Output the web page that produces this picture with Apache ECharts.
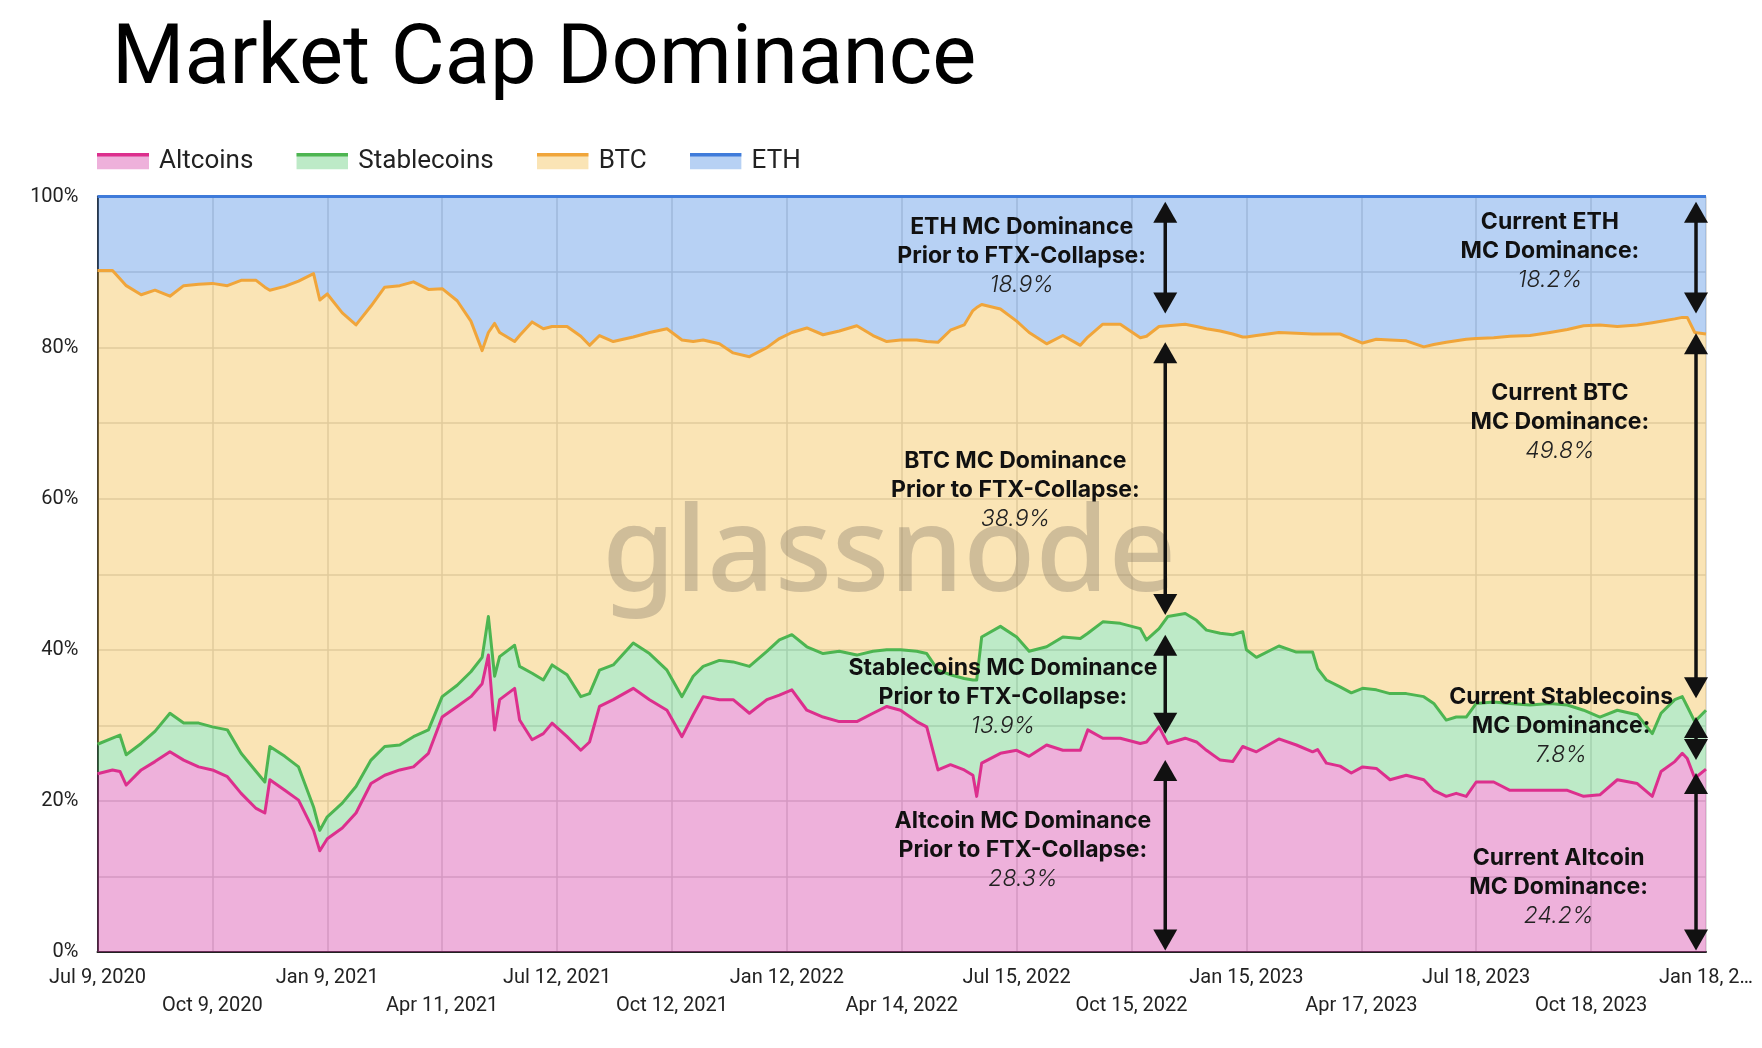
<!DOCTYPE html>
<html>
<head>
<meta charset="utf-8">
<script src="https://cdn.jsdelivr.net/npm/echarts/dist/echarts.min.js"></script>
<style>
html,body{margin:0;padding:0;background:#ffffff;}
#chart{width:1762px;height:1048px;}
</style>
</head>
<body>
<div id="chart"></div>
<script>
// ---- DATA (days since Jul 9, 2020; dominance in %) ----
const dayIndex = [0,12,18,23,35,46,58,69,81,92,
104,115,127,134,138,150,161,173,178,184,
196,207,219,230,242,253,265,276,288,299,
308,313,318,322,334,338,348,357,364,376,
387,394,402,413,429,442,456,468,477,485,
498,509,522,536,546,556,568,581,594,608,
621,632,643,656,664,673,683,694,701,704,
708,723,736,746,760,773,787,793,805,819,
835,840,850,857,871,880,888,899,909,917,
920,928,946,960,973,977,984,995,1004,1013,
1024,1035,1048,1062,1070,1080,1088,1096,1104,1118,
1131,1147,1163,1177,1190,1203,1217,1233,1245,1252,
1263,1269,1273,1279,1288];

const altcoins = [23.6,24.1,23.9,22.1,24.1,25.2,26.5,25.4,24.5,24.1,
23.2,21.0,19.0,18.4,22.8,21.4,20.1,16.1,13.4,15.0,
16.4,18.4,22.3,23.4,24.1,24.5,26.3,31.1,32.5,33.8,
35.5,39.3,29.4,33.4,34.9,30.7,28.1,28.9,30.3,28.5,
26.7,27.8,32.5,33.4,34.9,33.4,32.0,28.5,31.4,33.8,
33.4,33.4,31.6,33.4,34.0,34.7,32.0,31.1,30.5,30.5,
31.6,32.5,32.0,30.5,29.8,24.1,24.8,24.1,23.4,20.6,
25.0,26.3,26.7,25.9,27.4,26.7,26.7,29.4,28.3,28.3,
27.6,27.8,29.8,27.6,28.3,27.8,26.7,25.4,25.2,27.2,
27.0,26.5,28.2,27.4,26.5,26.8,25.0,24.6,23.7,24.5,
24.3,22.8,23.4,22.8,21.4,20.6,21.0,20.6,22.5,22.5,
21.4,21.4,21.4,21.4,20.6,20.8,22.8,22.3,20.6,23.9,
25.2,26.3,25.6,23.0,24.2];

const stablecoins = [3.9,4.2,4.8,4.0,3.5,4.0,5.1,4.9,5.8,5.7,
6.2,5.3,4.9,4.1,4.4,4.5,4.4,3.1,2.7,2.9,
3.3,3.5,3.1,3.8,3.3,4.0,3.1,2.7,2.8,3.3,
3.5,5.1,7.1,5.7,5.7,7.1,8.8,7.1,7.7,8.2,
7.1,6.4,4.8,4.6,6.0,6.1,5.3,5.3,5.1,4.0,
5.2,5.0,6.2,6.4,7.3,7.3,8.4,8.4,9.3,8.8,
8.2,7.5,8.0,9.3,9.7,13.2,11.9,12.1,12.6,15.4,
16.7,16.8,15.0,13.9,13.0,15.0,14.8,12.8,15.4,15.2,
15.2,13.5,13.0,16.8,16.5,16.1,15.9,16.8,16.8,15.2,
13.0,12.5,12.3,12.3,13.2,10.7,11.0,10.5,10.6,10.4,
10.4,11.4,10.8,11.0,11.5,10.1,10.1,10.5,10.4,10.6,
11.5,11.3,11.5,11.3,11.4,10.3,9.2,9.1,8.3,7.7,
8.2,7.5,6.9,7.5,7.8];

const btc = [62.7,61.9,60.4,62.1,59.4,58.4,55.2,57.9,58.1,58.7,
58.8,62.6,65.0,65.5,60.4,62.2,64.3,70.6,70.2,69.2,
64.9,61.1,60.1,60.8,60.8,60.2,58.3,54.0,50.9,46.4,
40.6,37.6,46.7,42.9,40.2,43.8,46.5,46.5,44.8,46.1,
47.7,46.1,44.3,42.8,40.5,42.5,45.2,47.2,44.3,43.2,
41.9,40.9,41.0,40.2,39.9,40.0,42.2,42.2,42.4,43.6,
41.8,40.8,41.0,41.2,41.3,43.4,45.6,46.8,48.9,49.3,
44.0,42.0,41.8,42.2,40.1,39.9,38.8,39.2,39.4,39.6,
38.5,40.2,40.0,38.5,38.3,38.9,39.9,40.0,39.8,39.0,
41.4,42.6,41.5,42.2,42.1,44.3,45.8,46.7,46.9,45.7,
46.4,46.8,46.7,46.3,47.5,50.0,49.8,50.0,48.3,48.2,
48.6,48.9,49.1,49.7,50.9,51.9,50.8,51.6,54.4,51.9,
50.4,50.2,51.5,51.5,49.8];

const eth = [9.8,9.8,10.9,11.8,13.0,12.4,13.2,11.8,11.6,11.5,
11.8,11.1,11.1,12.0,12.4,11.9,11.2,10.2,13.7,12.9,
15.4,17.0,14.5,12.0,11.8,11.3,12.3,12.2,13.8,16.5,
20.4,18.0,16.8,18.0,19.2,18.4,16.6,17.5,17.2,17.2,
18.5,19.7,18.4,19.2,18.6,18.0,17.5,19.0,19.2,19.0,
19.5,20.7,21.2,20.0,18.8,18.0,17.4,18.3,17.8,17.1,
18.4,19.2,19.0,19.0,19.2,19.3,17.7,17.0,15.1,14.7,
14.3,14.9,16.5,18.0,19.5,18.4,19.7,18.6,16.9,16.9,
18.7,18.5,17.2,17.1,16.9,17.2,17.5,17.8,18.2,18.6,
18.6,18.4,18.0,18.1,18.2,18.2,18.2,18.2,18.8,19.4,
18.9,19.0,19.1,19.9,19.6,19.3,19.1,18.9,18.8,18.7,
18.5,18.4,18.0,17.6,17.1,17.0,17.2,17.0,16.7,16.5,
16.2,16.0,16.0,18.0,18.2];

const xTickLabels = ['Jul 9, 2020','Oct 9, 2020','Jan 9, 2021','Apr 11, 2021','Jul 12, 2021','Oct 12, 2021',
'Jan 12, 2022','Apr 14, 2022','Jul 15, 2022','Oct 15, 2022','Jan 15, 2023','Apr 17, 2023',
'Jul 18, 2023','Oct 18, 2023','Jan 18, 2\u2026'];
const yTickLabels = ['0%','20%','40%','60%','80%','100%'];
const seriesNames = ['Altcoins','Stablecoins','BTC','ETH'];

// ---- STYLES ----
const lineColors = ['#DC2F8D','#4DB551','#F0A53A','#3F7BDA'];
const fillColors = ['rgba(212,60,165,0.4)','rgba(90,202,115,0.4)','rgba(242,187,70,0.4)','rgba(75,140,227,0.4)'];
const iconFills  = ['#EEB1DB','#BDEAC7','#FAE4B5','#B7D1F4'];

// annotations (data coordinates: day, %)
const arrowSpecs = [[855,99.3,84.5],[855,80.7,44.6],[855,42.0,28.9],[855,25.4,0.2],
                    [1280,99.3,84.5],[1280,81.9,33.6],[1280,31.1,25.4],[1280,23.7,0.2]];
const notes = [
  {d:740,v:92.1,lines:['ETH MC Dominance','Prior to FTX-Collapse:'],pct:'18.9%'},
  {d:735,v:61.2,lines:['BTC MC Dominance','Prior to FTX-Collapse:'],pct:'38.9%'},
  {d:725,v:33.75,lines:['Stablecoins MC Dominance','Prior to FTX-Collapse:'],pct:'13.9%'},
  {d:741,v:13.5,lines:['Altcoin MC Dominance','Prior to FTX-Collapse:'],pct:'28.3%'},
  {d:1163,v:92.8,lines:['Current ETH','MC Dominance:'],pct:'18.2%'},
  {d:1171,v:70.2,lines:['Current BTC','MC Dominance:'],pct:'49.8%'},
  {d:1172,v:29.9,lines:['Current Stablecoins','MC Dominance:'],pct:'7.8%'},
  {d:1170,v:8.6,lines:['Current Altcoin','MC Dominance:'],pct:'24.2%'}
];

const valueSets = [altcoins, stablecoins, btc, eth];
// rows are [value, day] so that the stack is computed on the value dimension
function rows(vals){ return dayIndex.map((d,i)=>[vals[i], d]); }
function iconFor(i){
  const svg = "<svg xmlns='http://www.w3.org/2000/svg' width='52' height='17'>" +
    "<rect width='52' height='17' fill='" + iconFills[i] + "'/>" +
    "<rect width='52' height='4' fill='" + lineColors[i] + "'/></svg>";
  return 'image://data:image/svg+xml;charset=utf-8,' + encodeURIComponent(svg);
}

const series = [];
seriesNames.forEach((name,i)=>{
  series.push({
    name: name, type:'line', stack:'areas', data: rows(valueSets[i]),
    encode:{x:1, y:0},
    symbol:'none', showSymbol:false, silent:true, z:1,
    lineStyle:{width:0, opacity:0},
    areaStyle:{color: fillColors[i], opacity:1}
  });
});
seriesNames.forEach((name,i)=>{
  series.push({
    name: name, type:'line', stack:'lines', data: rows(valueSets[i]),
    encode:{x:1, y:0},
    symbol:'none', showSymbol:false, silent:true, z:3,
    lineStyle:{width:3, color: lineColors[i], join:'round'},
    itemStyle:{color: lineColors[i]}
  });
});

const FONT = 'Roboto';
const NOTE_FONT = 'Inter';
const chart = echarts.init(document.getElementById('chart'), null, {renderer:'canvas'});
const option = {
  animation:false,
  backgroundColor:'#ffffff',
  color: lineColors,
  title:{
    text:'Market Cap Dominance', left:112, top:20.5, padding:0,
    textStyle:{fontFamily:FONT, fontSize:83, fontWeight:'normal', color:'#000000'}
  },
  legend:{
    left:97, top:148, padding:0, itemWidth:52, itemHeight:17, itemGap:43,
    selectedMode:false,
    textStyle:{fontFamily:FONT, fontSize:26, color:'#222222', padding:[0,0,0,5]},
    data: seriesNames.map((n,i)=>({name:n, icon: iconFor(i)}))
  },
  grid:{left:97.5, right:56, top:196.5, bottom:96, containLabel:false},
  xAxis:{
    type:'value', min:0, max:1288, interval:92,
    axisLine:{show:true, onZero:false, lineStyle:{color:'#222222', width:2}},
    axisTick:{show:false},
    splitLine:{show:true, lineStyle:{color:'#d4d4d4', width:1.5}},
    axisLabel:{
      fontFamily:FONT, fontSize:20, color:'#222222', margin:12, lineHeight:28,
      showMinLabel:true, showMaxLabel:true,
      formatter:function(v){
        const i = Math.round(v/92);
        const t = xTickLabels[i] || '';
        return (i % 2) ? '\n' + t : t;
      }
    }
  },
  yAxis:{
    type:'value', min:0, max:100, interval:10,
    axisLine:{show:true, lineStyle:{color:'#222222', width:2}},
    axisTick:{show:false},
    splitLine:{show:true, lineStyle:{color:'#d4d4d4', width:1.5}},
    axisLabel:{
      fontFamily:FONT, fontSize:20, color:'#222222', margin:19,
      formatter:function(v){ return (v % 20 === 0) ? yTickLabels[v/20] : ''; }
    }
  },
  series: series
};
chart.setOption(option);

// ---- annotations placed through the chart's own scales ----
function px(d,v){ return chart.convertToPixel({gridIndex:0}, [d, v]); }
const graphics = [];
const wm = px(634, 52.2);
graphics.push({
  type:'text', x: wm[0], y: wm[1], z:2, silent:true,
  style:{text:'glassnode', fontFamily:'Noto Sans', fontSize:118, fontWeight:500,
         fill:'rgba(110,100,88,0.30)', align:'center', verticalAlign:'middle'}
});
const HEAD_H = 21, HEAD_W = 12;
arrowSpecs.forEach(a=>{
  const t = px(a[0], a[1]), b = px(a[0], a[2]);
  const x = t[0];
  graphics.push({type:'line', z:100, silent:true,
    shape:{x1:x, y1:t[1]+HEAD_H-1, x2:x, y2:b[1]-HEAD_H+1},
    style:{stroke:'#111111', lineWidth:3.5}});
  graphics.push({type:'polygon', z:100, silent:true,
    shape:{points:[[x,t[1]],[x-HEAD_W,t[1]+HEAD_H],[x+HEAD_W,t[1]+HEAD_H]]},
    style:{fill:'#111111'}});
  graphics.push({type:'polygon', z:100, silent:true,
    shape:{points:[[x,b[1]],[x-HEAD_W,b[1]-HEAD_H],[x+HEAD_W,b[1]-HEAD_H]]},
    style:{fill:'#111111'}});
});
notes.forEach(n=>{
  const p = px(n.d, n.v);
  const txt = n.lines.map(l=>'{b|'+l+'}').join('\n') + '\n{p|' + n.pct + '}';
  graphics.push({type:'text', x:p[0], y:p[1], z:101, silent:true,
    style:{text:txt, align:'center', verticalAlign:'middle',
      rich:{
        b:{fontFamily:NOTE_FONT, fontWeight:'bold', fontSize:23, lineHeight:29, fill:'#111111', color:'#111111', align:'center'},
        p:{fontFamily:NOTE_FONT, fontWeight:300, fontStyle:'italic', fontSize:23, lineHeight:29, fill:'#222222', color:'#222222', align:'center'}
      }}});
});
chart.setOption({graphic:{elements:graphics}});
</script>
</body>
</html>
